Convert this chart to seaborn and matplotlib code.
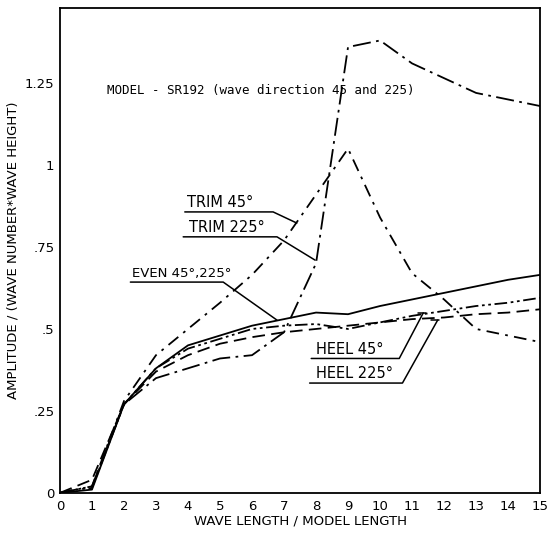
import matplotlib
matplotlib.use("Agg")
import matplotlib.pyplot as plt
import seaborn as sns
import pandas as pd

# ---- data ----
wave_length = [0, 0.5, 1, 2, 3, 4, 5, 6, 7, 8, 9, 10, 11, 12, 13, 14, 15]
trim_225 = [0, 0.01, 0.02, 0.27, 0.35, 0.38, 0.41, 0.42, 0.49, 0.70, 1.36, 1.38, 1.31, 1.265, 1.22, 1.20, 1.18]
trim_45 = [0, 0.01, 0.02, 0.28, 0.42, 0.50, 0.58, 0.665, 0.77, 0.91, 1.05, 0.84, 0.67, 0.59, 0.50, 0.48, 0.46]
even = [0, 0.005, 0.01, 0.27, 0.38, 0.45, 0.48, 0.51, 0.53, 0.55, 0.545, 0.57, 0.59, 0.61, 0.63, 0.65, 0.665]
heel_45 = [0, 0.01, 0.015, 0.27, 0.38, 0.44, 0.47, 0.50, 0.51, 0.515, 0.50, 0.52, 0.54, 0.555, 0.57, 0.58, 0.595]
heel_225 = [0, 0.02, 0.04, 0.27, 0.37, 0.42, 0.455, 0.475, 0.49, 0.50, 0.51, 0.52, 0.53, 0.535, 0.545, 0.55, 0.56]

series_names = ["TRIM 225", "TRIM 45", "EVEN", "HEEL 45", "HEEL 225"]
series_values = [trim_225, trim_45, even, heel_45, heel_225]

x_ticks = list(range(0, 16))
y_ticks = [0, 0.25, 0.5, 0.75, 1, 1.25]
y_tick_labels = ["0", ".25", ".5", ".75", "1", "1.25"]

rows = []
for name, vals in zip(series_names, series_values):
    for xv, yv in zip(wave_length, vals):
        rows.append({"x": xv, "y": yv, "series": name})
df = pd.DataFrame(rows)

sns.set_style("white")
plt.rcParams["font.family"] = ["DejaVu Sans"]
for k in ["text.color", "axes.labelcolor", "xtick.color", "ytick.color", "axes.edgecolor"]:
    plt.rcParams[k] = "black"

fig = plt.figure(figsize=(5.5, 5.34), dpi=100)
ax = fig.add_axes([0.109, 0.077, 0.873, 0.908])

dashes = {
    "TRIM 225": (10, 3, 1.5, 3),
    "TRIM 45": (7, 3.5, 1.5, 3.5),
    "EVEN": "",
    "HEEL 45": (7, 2, 1.5, 2, 1.5, 2),
    "HEEL 225": (7, 3.5),
}
sns.lineplot(data=df, x="x", y="y", style="series", dashes=dashes,
             color="black", linewidth=1.3, legend=False, ax=ax,
             estimator=None, sort=True)

ax.set_xlim(0, 15)
ax.set_ylim(0, 1.479)
ax.set_xticks(x_ticks)
ax.set_xticklabels([str(t) for t in x_ticks], fontsize=9.5)
ax.set_yticks(y_ticks)
ax.set_yticklabels(y_tick_labels, fontsize=9.5)
ax.tick_params(direction="inout", length=6, width=1, colors="black", pad=2)
ax.tick_params(axis="y", pad=1)
for s in ax.spines.values():
    s.set_color("black")
    s.set_linewidth(1.3)

ax.set_xlabel("WAVE LENGTH / MODEL LENGTH", fontsize=9.5, labelpad=1)
ax.set_ylabel("AMPLITUDE / (WAVE NUMBER*WAVE HEIGHT)", fontsize=9.5, labelpad=4)

ax.text(1.47, 1.227, "MODEL - SR192 (wave direction 45 and 225)", fontsize=9,
        family="DejaVu Sans Mono", ha="left", va="center")

# labels with underline + leader lines
def label(txt, tx, ty, ux0, ux1, uy, lx, ly, size=10.5, cap=None):
    ax.text(tx, ty, txt, fontsize=size, ha="left", va="bottom")
    ax.plot([ux0, ux1, lx], [uy, uy, ly], color="black", linewidth=1.1)
    if cap is not None:
        ax.plot([cap[0], cap[1]], [ly, ly], color="black", linewidth=1.1)

label("TRIM 45°", 3.97, 0.862, 3.9, 6.66, 0.857, 7.4, 0.823)
label("TRIM 225°", 4.03, 0.787, 3.85, 6.78, 0.781, 7.97, 0.71)
label("EVEN 45°,225°", 2.25, 0.648, 2.2, 5.1, 0.643, 6.78, 0.527, size=9.5)
label("HEEL 45°", 8.0, 0.415, 7.85, 10.6, 0.41, 11.35, 0.549, cap=(11.2, 11.45))
label("HEEL 225°", 8.0, 0.34, 7.8, 10.7, 0.335, 11.8, 0.527, cap=(11.6, 11.85))

fig.savefig("out.png", dpi=100, facecolor="white")
